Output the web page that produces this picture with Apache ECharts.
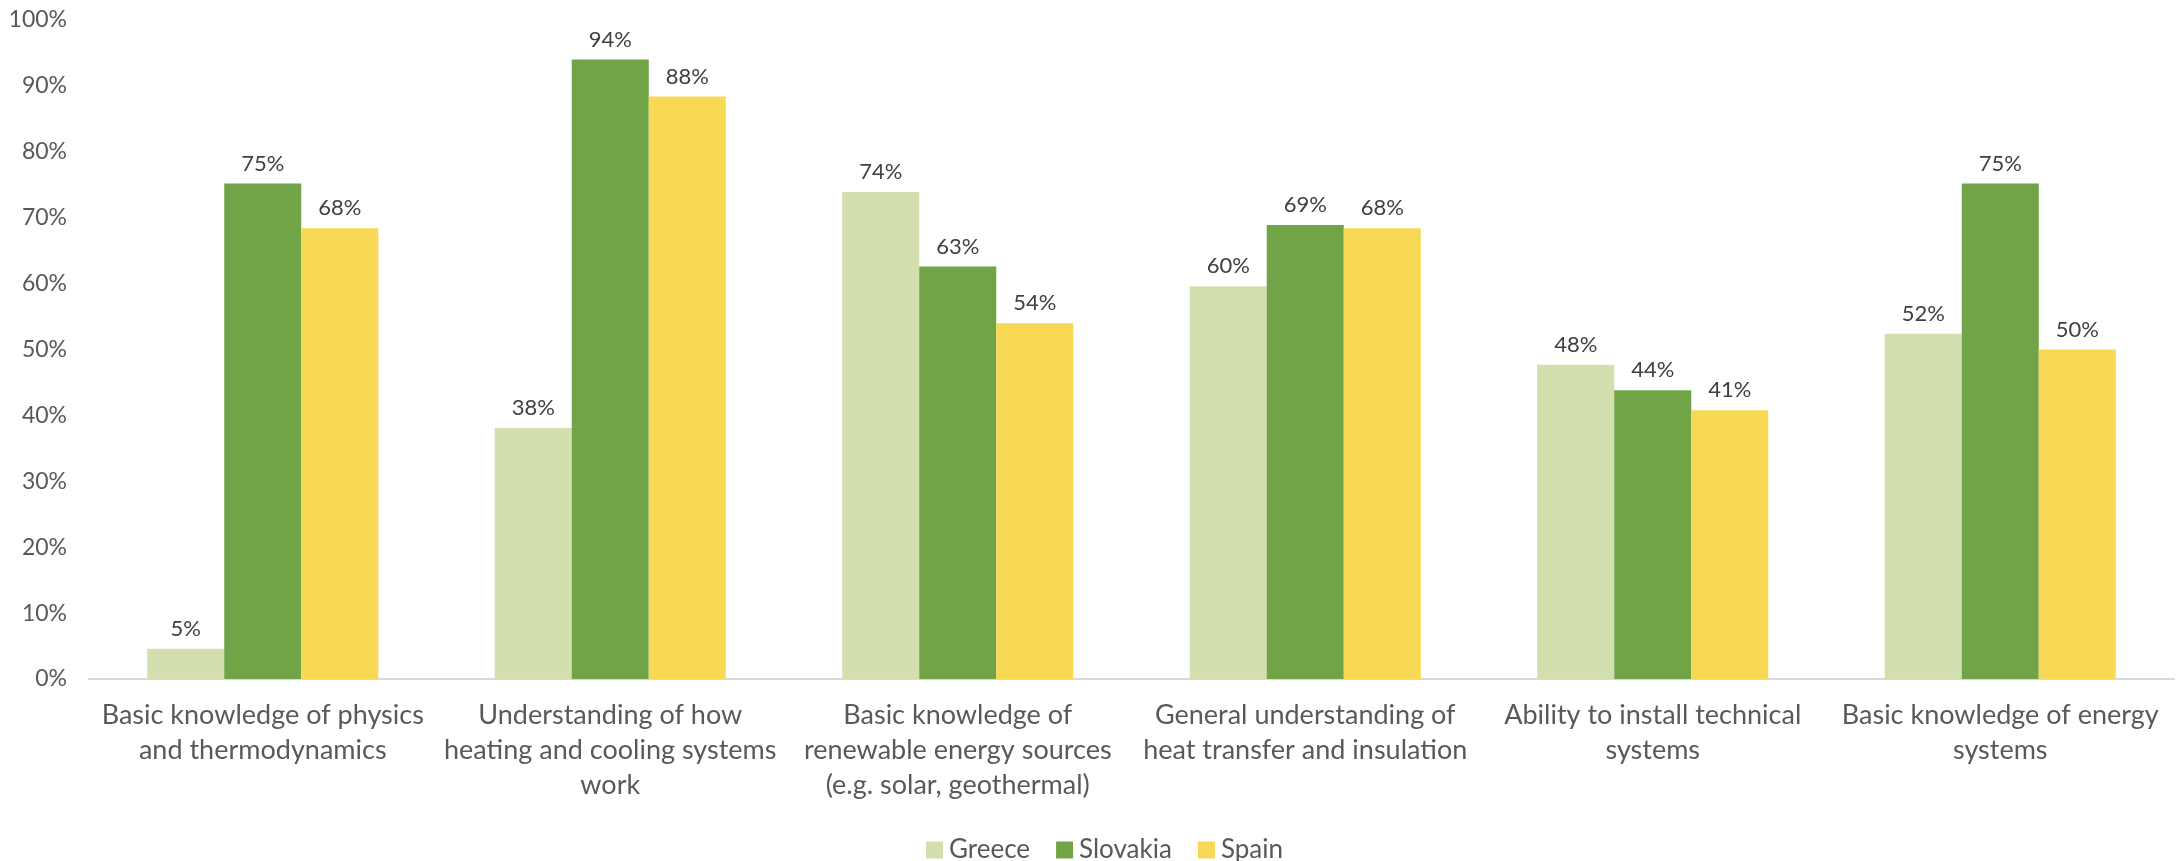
<!DOCTYPE html>
<html>
<head>
<meta charset="utf-8">
<title>Knowledge areas by country</title>
<script src="https://cdn.jsdelivr.net/npm/echarts@6/dist/echarts.min.js"></script>
<style>
  html, body { margin: 0; padding: 0; background: #ffffff; }
  #chart { width: 2176px; height: 861px; }
</style>
</head>
<body>
<div id="chart"></div>
<script>
// Knowledge areas (x-axis categories)
const categories = [
  'Basic knowledge of physics\nand thermodynamics',
  'Understanding of how\nheating and cooling systems\nwork',
  'Basic knowledge of\nrenewable energy sources\n(e.g. solar, geothermal)',
  'General understanding of\nheat transfer and insulation',
  'Ability to install technical\nsystems',
  'Basic knowledge of energy\nsystems'
];

// Share of respondents, in percent
const greece   = [4.6, 38.1, 73.9, 59.6, 47.7, 52.4];
const slovakia = [75.2, 94.0, 62.6, 68.9, 43.8, 75.2];
const spain    = [68.4, 88.4, 54.0, 68.4, 40.8, 50.0];

const seriesNames = ['Greece', 'Slovakia', 'Spain'];
const yTicks = [0, 10, 20, 30, 40, 50, 60, 70, 80, 90, 100];

const FONT = 'Lato, "Open Sans", sans-serif';
const colors = ['#D3DFAF', '#70A446', '#F7D955'];

const valueLabel = {
  show: true,
  position: 'top',
  distance: 9,
  color: '#404040',
  fontFamily: FONT,
  fontSize: 22,
  formatter: p => Math.round(p.value) + '%'
};

function makeSeries(name, data, color) {
  return {
    name: name,
    type: 'bar',
    data: data,
    barGap: '0%',
    barCategoryGap: '33.5%',
    itemStyle: { color: color },
    label: valueLabel
  };
}

const chart = echarts.init(document.getElementById('chart'), null, { renderer: 'canvas' });
chart.setOption({
  animation: false,
  color: colors,
  grid: { left: 89, right: 2, top: 20, bottom: 182, containLabel: false },
  legend: {
    data: seriesNames,
    left: 921,
    top: 832,
    itemWidth: 17,
    itemHeight: 17,
    itemGap: 26,
    icon: 'rect',
    textStyle: { color: '#595959', fontFamily: FONT, fontSize: 26, padding: [0, 0, 0, 1] }
  },
  xAxis: {
    type: 'category',
    data: categories,
    axisLine: { show: true, lineStyle: { color: '#D9D9D9', width: 2 } },
    axisTick: { show: false },
    axisLabel: {
      interval: 0,
      margin: 19,
      color: '#595959',
      fontFamily: FONT,
      fontSize: 27,
      lineHeight: 35,
      align: 'center'
    }
  },
  yAxis: {
    type: 'value',
    min: yTicks[0],
    max: yTicks[yTicks.length - 1],
    interval: 10,
    axisLine: { show: false },
    axisTick: { show: false },
    splitLine: { show: false },
    axisLabel: {
      margin: 22,
      color: '#595959',
      fontFamily: FONT,
      fontSize: 23,
      formatter: v => v + '%'
    }
  },
  series: [
    makeSeries(seriesNames[0], greece, colors[0]),
    makeSeries(seriesNames[1], slovakia, colors[1]),
    makeSeries(seriesNames[2], spain, colors[2])
  ]
});
</script>
</body>
</html>
